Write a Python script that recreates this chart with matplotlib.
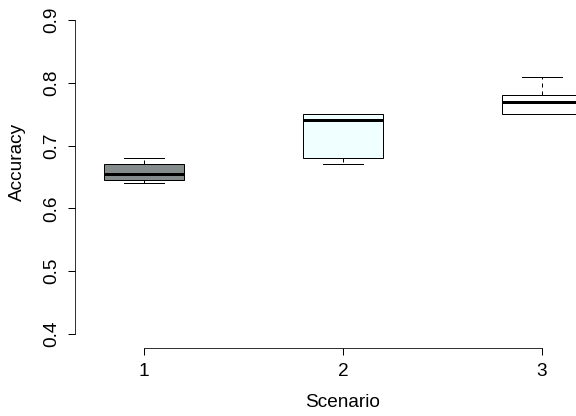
import matplotlib
matplotlib.use("Agg")
from matplotlib import pyplot as plt

# === Données ===
scenarios = [1, 2, 3]
tick_labels = ["1", "2", "3"]
medians = [0.655, 0.74, 0.77]
q1 = [0.645, 0.68, 0.75]
q3 = [0.67, 0.75, 0.78]
whislo = [0.64, 0.67, 0.75]
whishi = [0.68, 0.75, 0.81]
fills = ["#838B8B", "#F0FFFF", "#FFFFFF"]  # azure4, azure, white
yticks = [0.4, 0.5, 0.6, 0.7, 0.8, 0.9]

plt.rcParams['font.family'] = ['Liberation Sans', 'DejaVu Sans']
plt.rcParams['font.size'] = 19

W, H = 576, 416
fig = plt.figure(figsize=(W / 72, H / 72), dpi=72)

# Zone de tracé (en pixels), elle dépasse à droite comme dans l'original
left_px, right_px = 75, 610.7
top_px, bottom_px = 5.6, 348.3
ax = fig.add_axes([left_px / W, 1 - bottom_px / H,
                   (right_px - left_px) / W, (bottom_px - top_px) / H])

stats = []
for i in range(len(scenarios)):
    stats.append(dict(med=medians[i], q1=q1[i], q3=q3[i],
                      whislo=whislo[i], whishi=whishi[i], fliers=[]))

bp = ax.bxp(stats, positions=scenarios, widths=0.4, patch_artist=True,
            showfliers=False, capwidths=0.2,
            boxprops=dict(edgecolor='black', linewidth=1),
            medianprops=dict(color='black', linewidth=3, solid_capstyle='butt'),
            whiskerprops=dict(color='black', linewidth=1, linestyle=(0, (4, 4))),
            capprops=dict(color='black', linewidth=1))
for patch, c in zip(bp['boxes'], fills):
    patch.set_facecolor(c)

ax.set_xlim(0.653, 3.347)
ax.set_ylim(0.377, 0.923)

# Style "R" : axes détachés
for s in ['top', 'right']:
    ax.spines[s].set_visible(False)
ax.spines['left'].set_bounds(0.4, 0.9)
ax.spines['bottom'].set_bounds(1, 3)
ax.set_xticks(scenarios)
ax.set_xticklabels(tick_labels)
ax.set_yticks(yticks)
ax.set_yticklabels([f"{v:.1f}" for v in yticks], rotation=90, va='center')
ax.tick_params(axis='both', length=7, width=1, color='black')
ax.tick_params(axis='x', pad=8)
ax.tick_params(axis='y', pad=8)

ax.set_xlabel("Scenario", va='center')
ax.xaxis.set_label_coords(0.5, (bottom_px - 402) / (bottom_px - top_px))
ax.set_ylabel("Accuracy", va='center')
ax.yaxis.set_label_coords((17 - left_px) / (right_px - left_px),
                          (bottom_px - 162) / (bottom_px - top_px))

fig.savefig("out.png", dpi=72)
